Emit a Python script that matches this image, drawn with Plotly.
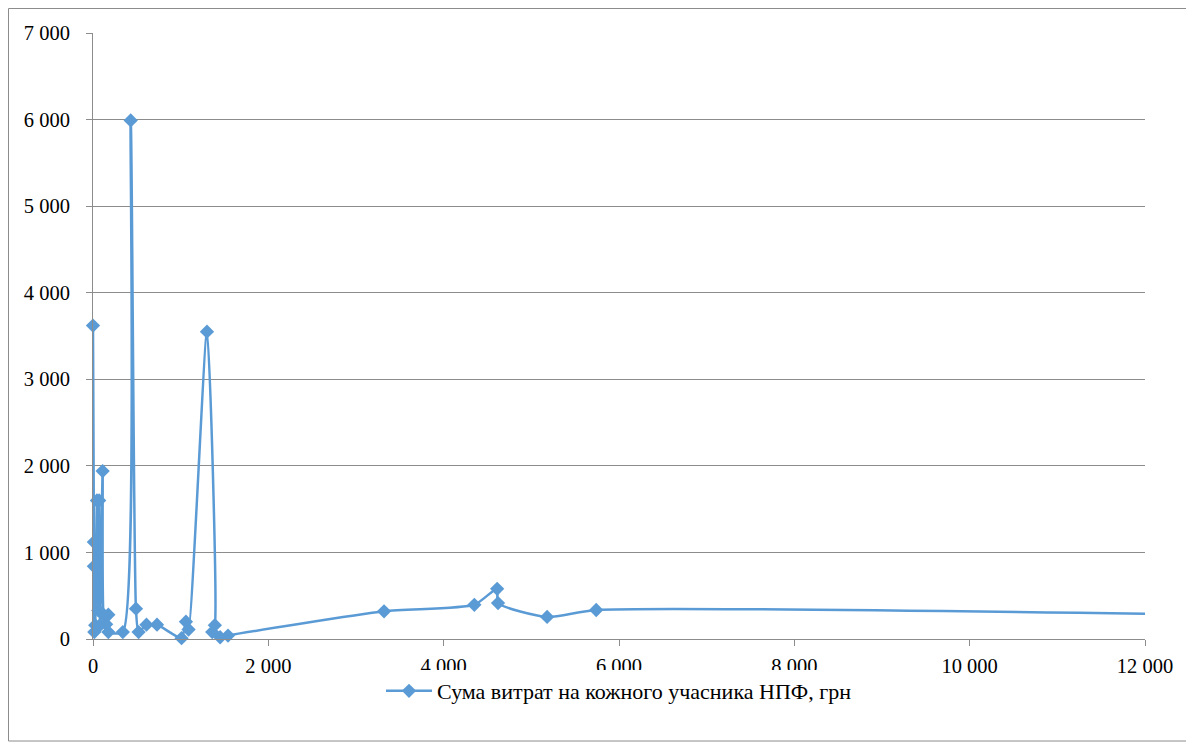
import plotly.graph_objects as go

# Data
x_vals = [0, 15, 10, 10, 25, 45, 60, 70, 80, 110, 120, 150, 175, 175, 340, 430, 490, 520,
          610, 730, 1010, 1060, 1090, 1300, 1390, 1360, 1450, 1540, 3320, 4350, 4610, 4620,
          5180, 5740, 14000]
y_vals = [3620, 80, 1120, 840, 160, 1600, 330, 1600, 160, 1940, 280, 170, 280, 80, 80, 5990, 350, 80,
          165, 165, 10, 200, 110, 3550, 160, 80, 20, 40, 320, 395, 580, 415,
          255, 335, 260]
series_name = "Сума витрат на кожного учасника НПФ, грн"

y_ticks = [0, 1000, 2000, 3000, 4000, 5000, 6000, 7000]
y_labels = ["0", "1 000", "2 000", "3 000", "4 000", "5 000", "6 000", "7 000"]
x_ticks = [0, 2000, 4000, 6000, 8000, 10000, 12000]
x_labels = ["0", "2 000", "4 000", "6 000", "8 000", "10 000", "12 000"]

line_color = "#5B9BD5"
grid_color = "#8C8C8C"
font_family = "Times New Roman, Liberation Serif, DejaVu Serif, serif"
tick_font = dict(family=font_family, size=20.5, color="black")
legend_font = dict(family=font_family, size=22, color="black")

fig = go.Figure()
fig.add_trace(go.Scatter(
    x=x_vals, y=y_vals, name=series_name,
    mode="lines+markers", cliponaxis=False,
    line=dict(color=line_color, width=2.5, shape="spline", smoothing=0.6),
    marker=dict(symbol="diamond", size=11, color=line_color),
))

W, H = 1186, 737
ml, mr, mt, mb = 85, 49, 25, 106
pw = W - ml - mr
ph = H - mt - mb

fig.update_layout(
    width=W, height=H,
    margin=dict(l=ml, r=mr, t=mt, b=mb),
    paper_bgcolor="white", plot_bgcolor="white",
    font=dict(family=font_family, size=20.5, color="black"),
    showlegend=True,
    legend=dict(orientation="h", x=0.5, xanchor="center", y=(631 - 683) / ph, yanchor="middle",
                font=legend_font, itemwidth=46),
    xaxis=dict(range=[0, 12000], tickvals=x_ticks, ticktext=x_labels, tickfont=tick_font,
               showgrid=False, zeroline=False, showline=True, linecolor=grid_color, linewidth=1,
               ticks="outside", ticklen=6, tickcolor=grid_color, ticklabelstandoff=2),
    yaxis=dict(range=[0, 7000], tickvals=y_ticks, ticktext=y_labels, tickfont=tick_font,
               showgrid=True, gridcolor=grid_color, gridwidth=1, zeroline=False,
               showline=True, linecolor=grid_color, linewidth=1,
               ticks="outside", ticklen=6, tickcolor=grid_color, ticklabelstandoff=12),
)

# outer chart border
fig.add_shape(type="rect", xref="paper", yref="paper",
              x0=(0.5 - ml) / pw, x1=(1182 - ml) / pw,
              y0=(631 - 733) / ph, y1=(631 - 0.5) / ph,
              line=dict(color=grid_color, width=1), layer="below")

fig.write_html("out.html")
